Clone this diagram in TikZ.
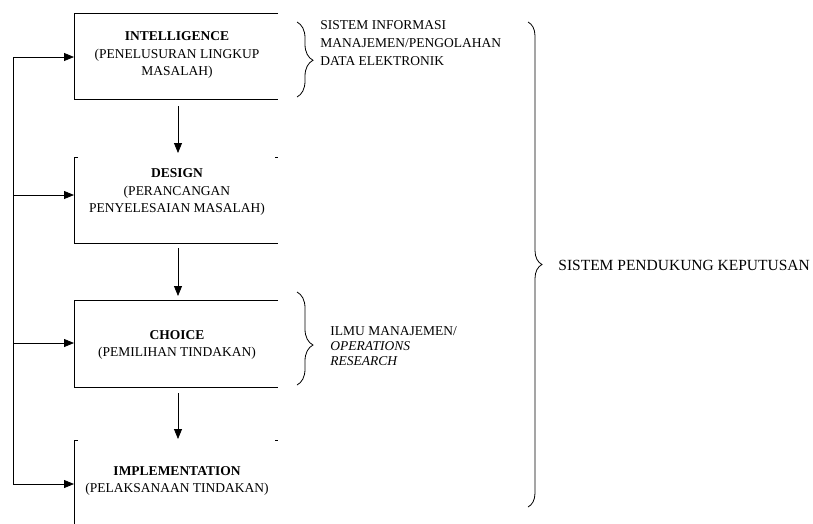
\documentclass[tikz,border=0pt]{standalone}
\usepackage{fontspec}
\setmainfont{Liberation Serif}
\usetikzlibrary{arrows.meta,decorations.pathreplacing}
\begin{document}
\begin{tikzpicture}[x=1pt,y=-1pt, line width=0.8pt,
  arr/.style={-{Triangle[length=10pt,width=8pt]}},
  boxframe/.style={minimum width=204pt, inner sep=0pt, outer sep=0pt},
  boxtext/.style={align=center, font=\fontsize{13.5}{17.5}\selectfont, inner sep=0pt},
  sidetext/.style={align=left, anchor=west, font=\fontsize{13.5}{18}\selectfont, inner sep=0pt},
  br/.style={decorate, decoration={brace, amplitude=#1}}
]
\useasboundingbox (0,0) rectangle (813,523);

% box frames
\node[boxframe, minimum height=86pt] (b1) at (176,56) {};
\node[boxframe, minimum height=86pt] (b2) at (176,200) {};
\node[boxframe, minimum height=87pt] (b3) at (176,343.5) {};
\node[boxframe, minimum height=90pt] (b4) at (176,485) {};

\draw (b1.north east) -- (b1.north west) -- (b1.south west) -- (b1.south east);
\draw ([xshift=4pt]b2.north west) -- (b2.north west) -- (b2.south west) -- (b2.south east);
\draw ([xshift=-3pt]b2.north east) -- (b2.north east);
\draw (b3.north east) -- (b3.north west) -- (b3.south west) -- (b3.south east);
\draw ([xshift=4pt]b4.north west) -- (b4.north west) -- (b4.south west);
\draw ([xshift=-3pt]b4.north east) -- (b4.north east);

% box texts
\node[boxtext] (t1) at (177,55) {\textbf{INTELLIGENCE}\\(PENELUSURAN LINGKUP\\MASALAH)};
\node[boxtext] (t2) at (177,192) {\textbf{DESIGN}\\(PERANCANGAN\\PENYELESAIAN MASALAH)};
\node[boxtext] (t3) at (177,345) {\textbf{CHOICE}\\(PEMILIHAN TINDAKAN)};
\node[boxtext] (t4) at (177,481) {\textbf{IMPLEMENTATION}\\(PELAKSANAAN TINDAKAN)};

% down arrows
\draw[arr] ([xshift=2pt,yshift=-7pt]b1.south) -- ([xshift=2pt,yshift=4pt]b2.north);
\draw[arr] ([xshift=2pt,yshift=-5pt]b2.south) -- ([xshift=2pt,yshift=4pt]b3.north);
\draw[arr] ([xshift=2pt,yshift=-6pt]b3.south) -- ([xshift=2pt,yshift=1pt]b4.north);

% feedback line
\coordinate (l1) at (13,57);
\coordinate (l2) at (13,195);
\coordinate (l3) at (13,343);
\coordinate (l4) at (13,484);
\draw (l1) -- (l4);
\draw[arr] (l1) -- (l1 -| b1.west);
\draw[arr] (l2) -- (l2 -| b2.west);
\draw[arr] (l3) -- (l3 -| b3.west);
\draw[arr] (l4) -- (l4 -| b4.west);

% braces
\coordinate (s1a) at (297,22);
\coordinate (s1b) at (297,97);
\draw[br=16pt, decoration={aspect=0.51}] (s1a) -- (s1b);
\coordinate (s2a) at (297,292);
\coordinate (s2b) at (297,385);
\draw[br=16pt, decoration={aspect=0.57}] (s2a) -- (s2b);
\coordinate (s3a) at (528,22);
\coordinate (s3b) at (528,507);
\draw[br=14pt, decoration={aspect=0.5}] (s3a) -- (s3b);

% side texts
\node[sidetext] (d1) at (320,43.5) {SISTEM INFORMASI\\MANAJEMEN/PENGOLAHAN\\DATA ELEKTRONIK};
\node[sidetext, font=\fontsize{13.5}{15}\selectfont] (d2) at (330,346) {ILMU MANAJEMEN/\\\textit{OPERATIONS}\\\textit{RESEARCH}};
\node[sidetext, font=\fontsize{15.5}{18}\selectfont] (d3) at (558,265) {SISTEM PENDUKUNG KEPUTUSAN};
\end{tikzpicture}
\end{document}
